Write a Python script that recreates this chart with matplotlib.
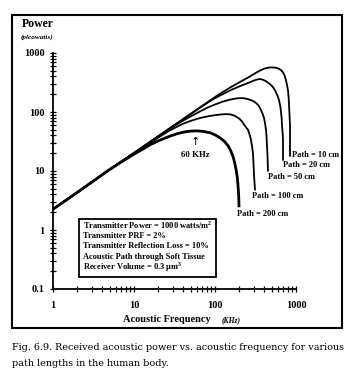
import matplotlib
matplotlib.use('Agg')
import matplotlib.pyplot as plt
from matplotlib.patches import Rectangle

# frequency (kHz) / received power (pW) for each path length
freq_10 = [1, 2, 5, 10, 20, 40, 65, 90, 115, 160, 203, 260, 312, 360, 414, 460,
           505, 550, 600, 650, 691, 725, 752, 775, 796, 810, 820, 832, 843, 843]
pow_10 = [2.25, 4.35, 10.6, 20.2, 39, 75, 119, 162, 204, 268, 322, 388, 452, 505, 549, 565,
          570, 566, 549, 515, 470, 410, 345, 285, 234, 180, 131, 88, 60.5, 17.5]

freq_20 = [1, 2, 5, 10, 20, 40, 65, 90, 115, 160, 203, 240, 270, 300, 330, 360,
           392, 430, 478, 515, 550, 585, 617, 640, 653, 665, 671, 685, 691, 691]
pow_20 = [2.25, 4.35, 10.6, 20.2, 39, 75, 118, 158, 190, 238, 274, 300, 319, 340, 355, 362,
          352, 330, 296, 268, 234, 195, 159, 125, 100, 78, 60.5, 42, 33.8, 15]

freq_50 = [1, 2, 5, 10, 20, 30, 40, 50, 65, 80, 100, 125, 153, 180, 203, 230,
           256, 285, 312, 340, 359, 385, 403, 416, 426, 433, 438, 445, 451]
pow_50 = [2.25, 4.35, 10.6, 20.2, 38.5, 56, 71, 84, 102, 118, 134, 150, 162, 169, 172, 171,
          165, 157, 147, 132, 117, 95, 79, 63, 49.8, 38, 27.9, 18, 9.8]

freq_100 = [1, 2, 5, 10, 15, 20, 27.8, 40, 49, 65, 80, 95, 115, 133, 155, 176,
            200, 215, 235, 256, 268, 278, 288, 295, 300, 303, 312]
pow_100 = [2.25, 4.35, 10.6, 20, 28.5, 37, 49, 63, 70, 79, 84, 87.5, 90.5, 92, 91, 86,
           77, 69, 58, 49.8, 41, 33.8, 25, 18.9, 12, 8.7, 4.7]

freq_200 = [1, 2, 5, 8, 10, 12.5, 15.8, 20, 27.8, 35, 42.6, 50, 60, 72, 87, 100,
            115, 130, 145, 157, 167, 175, 182, 188, 192, 196, 198]
pow_200 = [2.25, 4.35, 10.6, 16, 19.3, 23, 27.8, 32.5, 39, 43.3, 46, 47.4, 47.9, 46.8, 44.4, 41,
           36.6, 32, 26.8, 21.8, 17.5, 13.8, 10.6, 8, 5.9, 3.9, 2.43]

curves = [(freq_10, pow_10), (freq_20, pow_20), (freq_50, pow_50),
          (freq_100, pow_100), (freq_200, pow_200)]
widths = [1.3, 1.3, 1.3, 1.3, 2.0]

path_labels = ['Path = 10 cm', 'Path = 20 cm', 'Path = 50 cm',
               'Path = 100 cm', 'Path = 200 cm']
label_pos = [(893, 18.9), (691, 12.4), (451, 7.8), (286, 3.73), (187, 1.86)]

box_lines = ['Transmitter Power = 1000 watts/m$^\\mathbf{2}$',
             'Transmitter PRF = 2%',
             'Transmitter Reflection Loss = 10%',
             'Acoustic Path through Soft Tissue',
             'Receiver Volume = 0.3 \u03bcm$^\\mathbf{3}$']

serif = ['Liberation Serif', 'DejaVu Serif']
plt.rcParams['font.family'] = serif
plt.rcParams['mathtext.fontset'] = 'custom'
plt.rcParams['mathtext.rm'] = 'Liberation Serif:bold'
plt.rcParams['mathtext.bf'] = 'Liberation Serif:bold'

fig = plt.figure(figsize=(3.52, 3.80), dpi=100)
ax = fig.add_axes([53 / 352, 1 - 289 / 380, 243 / 352, 236 / 380])

for (f, p), lw in zip(curves, widths):
    ax.plot(f, p, color='black', lw=lw, solid_capstyle='butt', solid_joinstyle='round')

ax.set_xscale('log')
ax.set_yscale('log')
ax.set_xlim(1, 1000)
ax.set_ylim(0.1, 1000)
ax.set_xticks([1, 10, 100, 1000])
ax.set_xticklabels(['1', '10', '100', '1000'])
ax.set_yticks([0.1, 1, 10, 100, 1000])
ax.set_yticklabels(['0.1', '1', '10', '100', '1000'])
ax.spines['top'].set_visible(False)
ax.spines['right'].set_visible(False)
ax.spines['left'].set_linewidth(1.3)
ax.spines['bottom'].set_linewidth(1.3)
ax.tick_params(which='both', direction='inout', width=0.9, color='black')
ax.tick_params(axis='y', which='major', length=5, pad=3.5, labelsize=7.5)
ax.tick_params(axis='x', which='major', length=5, pad=6, labelsize=7.5)
ax.tick_params(which='minor', length=4)
for lab in ax.get_xticklabels() + ax.get_yticklabels():
    lab.set_fontweight('bold')

for txt, (x, y) in zip(path_labels, label_pos):
    ax.text(x, y, txt, fontsize=6, fontweight='bold', va='center', ha='left')

ax.text(56.5, 31.3, '\u2191', fontsize=8, family='DejaVu Sans', ha='center', va='center')
ax.text(56.5, 18.9, '60 KHz', fontsize=6.3, fontweight='bold', ha='center', va='center')

# parameter box
fig.patches.append(Rectangle((79 / 352, 1 - 277 / 380), 137 / 352, 58 / 380,
                             transform=fig.transFigure, fill=False, lw=1.3,
                             edgecolor='black'))
for i, line in enumerate(box_lines):
    fig.text(83 / 352, 1 - (225.5 + i * 10.5) / 380, line, fontsize=6,
             fontweight='bold', va='center', ha='left')

fig.text(22 / 352, 1 - 24 / 380, 'Power', fontsize=8.5, fontweight='bold', va='center')
fig.text(21 / 352, 1 - 37 / 380, '(picowatts)', fontsize=5.2, style='italic',
         fontweight='bold', va='center')
fig.text(123 / 352, 1 - 320 / 380, 'Acoustic Frequency', fontsize=7.5,
         fontweight='bold', va='center')
fig.text(222 / 352, 1 - 320 / 380, '(KHz)', fontsize=5.5, style='italic',
         fontweight='bold', va='center')

# outer frame
fig.patches.append(Rectangle((12 / 352, 1 - 328 / 380), 330 / 352, 313 / 380,
                             transform=fig.transFigure, fill=False, lw=1.5,
                             edgecolor='black'))

fig.text(12 / 352, 1 - 348 / 380,
         'Fig. 6.9. Received acoustic power vs. acoustic frequency for various',
         fontsize=6.9, family='DejaVu Serif', va='center')
fig.text(12 / 352, 1 - 363 / 380, 'path lengths in the human body.',
         fontsize=6.9, family='DejaVu Serif', va='center')

fig.savefig('out.png', dpi=100)
